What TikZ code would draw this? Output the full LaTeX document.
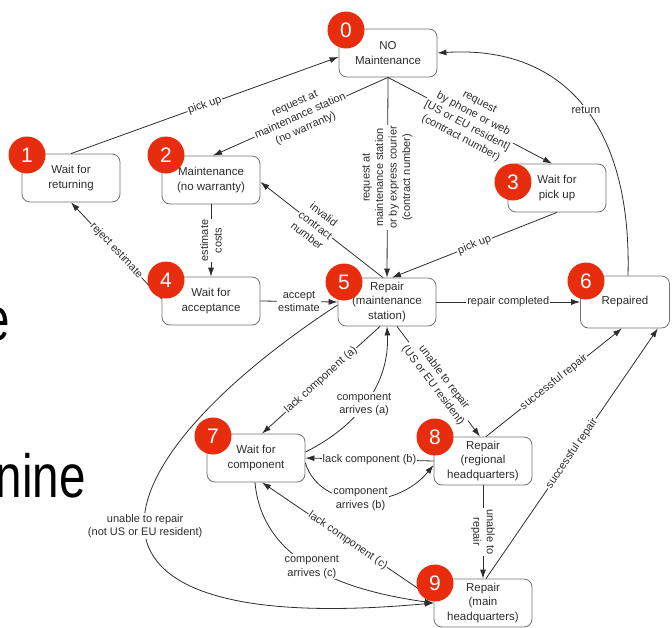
\documentclass[tikz,border=0pt]{standalone}
\usepackage{fontspec}
\setmainfont{Liberation Sans}
\usepackage{tikz}
\usetikzlibrary{arrows.meta}
\definecolor{badgered}{RGB}{232,45,15}
\definecolor{ink}{RGB}{45,45,45}
\definecolor{boxline}{RGB}{115,115,115}

\tikzset{
  state/.style={draw=boxline, line width=0.8pt, rounded corners=8pt, fill=white,
    minimum width=98pt, minimum height=48pt, align=center, text=ink,
    font=\fontsize{11.5}{14.5}\selectfont},
  badge/.style={circle, fill=badgered, text=white, minimum size=37pt, inner sep=0pt,
    font=\fontsize{21}{21}\selectfont},
  lbl/.style={fill=white, inner sep=1pt, align=center, text=ink,
    font=\fontsize{11}{13.5}\selectfont},
  slidetxt/.style={font=\fontsize{61}{61}\selectfont, xscale=0.78, inner sep=0pt}
}

\begin{document}
\begin{tikzpicture}[x=1pt, y=-1pt, line width=0.8pt, color=ink, >={Latex[length=9pt,width=6pt]}]
    \useasboundingbox (0,0) rectangle (672,627);
    % Slide text behind
    \node[slidetxt, anchor=base east, text=black] (slideE) at (10,340) {e};
    \node[slidetxt, anchor=base east, text=black] (slideNine) at (86,497) {nine};
    % States
    \node[state] (s0) at (388,53) {NO\\Maintenance};
    \node[state] (s1) at (71,178) {Wait for\\returning};
    \node[state] (s2) at (211,180) {Maintenance\\(no warranty)};
    \node[state] (s3) at (557,188) {Wait for\\pick up};
    \node[state] (s4) at (211,301) {Wait for\\acceptance};
    \node[state] (s5) at (387,302) {Repair\\(maintenance\\station)};
    \node[state, minimum width=89pt, minimum height=52pt] (s6) at (625,302) {Repaired};
    \node[state] (s7) at (256,458) {Wait for\\component};
    \node[state] (s8) at (483,461) {Repair\\(regional\\headquarters)};
    \node[state] (s9) at (483,603) {Repair\\(main\\headquarters)};
    % Requests
    \draw[->] (s1.north) -- node[lbl, sloped] {pick up} ([yshift=-4pt]s0.west);
    \draw[->] (s0.south) -- node[lbl, sloped] {request at\\maintenance station\\(no warranty)} ([xshift=2pt]s2.north);
    \draw[->] (s0.south) -- node[lbl, rotate=90] {request at\\maintenance station\\or by express courier\\(contract number)} (s5.north);
    \draw[->] (s0.south) -- node[lbl, sloped] {request\\by phone or web\\{[US or EU resident]}\\(contract number)} ([xshift=-5pt]s3.north);
    \draw[->] (s3.south) -- node[lbl, sloped] {pick up} ([xshift=5pt]s5.north);
    \draw[->] ([xshift=3pt]s6.north) .. controls (632,120) and (560,45) .. (s0.east) node[lbl, pos=0.47] {return};
    % No warranty
    \draw[->] (s2.south) -- node[lbl, rotate=90] {estimate\\costs} (s4.north);
    \draw[->] ([yshift=2pt]s4.west) -- node[lbl, sloped] {reject estimate} (s1.south);
    \draw[->] (s4.east) -- node[lbl] {accept\\estimate} (s5.west);
    \draw[->] ([xshift=-4pt]s5.north) -- node[lbl, sloped, pos=0.55] {invalid\\contract\\number} ([yshift=-2pt]s2.east);
    % Repair
    \draw[->] (s5.east) -- node[lbl] {repair completed} (s6.west);
    \draw[->] ([xshift=-7pt]s5.south) -- node[lbl, sloped] {lack component (a)} ([xshift=6pt]s7.north);
    \draw[->] ([yshift=6pt]s7.east) .. controls (350,430) and (390,390) .. (s5.south) node[lbl, pos=0.5] {component\\arrives (a)};
    \draw[->] (s8.west) -- node[lbl] {lack component (b)} (s7.east);
    \draw[->] ([yshift=-5pt]s7.east) .. controls (320,510) and (395,512) .. ([yshift=-4pt]s8.west) node[lbl, pos=0.5] {component\\arrives (b)};
    \draw[->] ([xshift=10pt]s5.south) -- node[lbl, sloped] {unable to repair\\(US or EU resident)} ([xshift=-3pt]s8.north);
    \draw[->] ([xshift=3pt]s8.north) -- node[lbl, sloped] {successful repair} ([xshift=-3pt]s6.south);
    \draw[->] ([xshift=3pt]s9.north) -- node[lbl, sloped] {successful repair} ([xshift=-12pt]s6.south east);
    \draw[->] (s8.south) -- node[lbl, rotate=-90] {unable to\\repair} (s9.north);
    \draw[->] ([yshift=4pt]s9.west) -- node[lbl, sloped] {lack component (c)} ([xshift=6pt]s7.south);
    \draw[->] ([xshift=-1pt]s7.south) .. controls (262,560) and (340,590) .. (s9.west) node[lbl, pos=0.5] {component\\arrives (c)};
    \draw[->] ([yshift=-3pt]s5.west) .. controls (100,460) and (30,640) .. (s9.west) node[lbl, pos=0.5] {unable to repair\\(not US or EU resident)};
    % Badges
    \node[badge] (b0) at (346,30) {0};
    \node[badge] (b1) at (27,155) {1};
    \node[badge] (b2) at (166,155) {2};
    \node[badge] (b3) at (513,182) {3};
    \node[badge] (b4) at (166,280) {4};
    \node[badge] (b5) at (344,282) {5};
    \node[badge] (b6) at (586,281) {6};
    \node[badge] (b7) at (213,436) {7};
    \node[badge] (b8) at (435,437) {8};
    \node[badge] (b9) at (435,583) {9};
\end{tikzpicture}
\end{document}
